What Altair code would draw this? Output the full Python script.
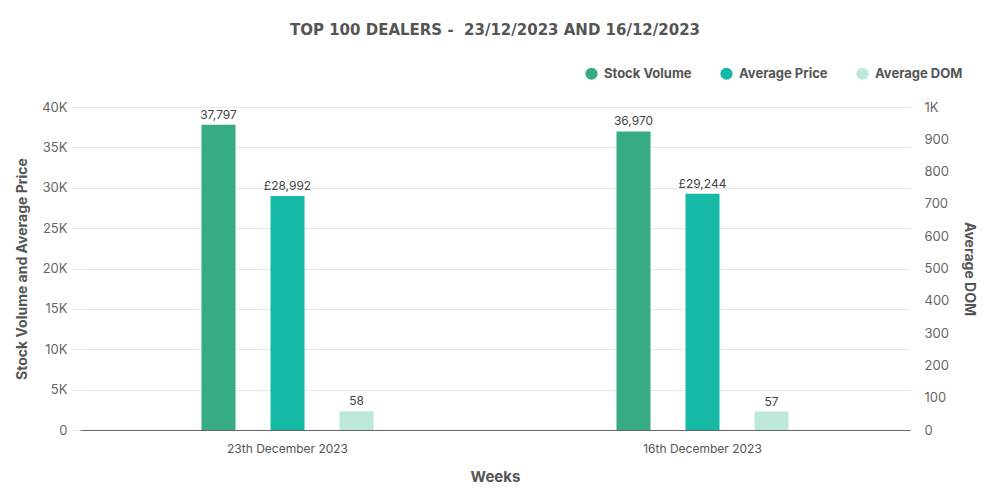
import altair as alt
import pandas as pd

weeks = ["23th December 2023", "16th December 2023"]
series = ["Stock Volume", "Average Price", "Average DOM"]
stock_volume = [37797, 36970]
average_price = [28992, 29244]
average_dom = [58, 57]
colors = ["#36ab84", "#15b9a6", "#bfe8dd"]

rows = []
for i, w in enumerate(weeks):
    rows.append(dict(week=w, series="Stock Volume", value=stock_volume[i], label=f"{stock_volume[i]:,}"))
    rows.append(dict(week=w, series="Average Price", value=average_price[i], label=f"£{average_price[i]:,}"))
    rows.append(dict(week=w, series="Average DOM", value=average_dom[i], label=f"{average_dom[i]}"))
df = pd.DataFrame(rows)

FONT = "Inter"

base = alt.Chart(df).encode(
    x=alt.X(
        "week:N", sort=weeks,
        scale=alt.Scale(paddingInner=0.5012, paddingOuter=0.2506),
        axis=alt.Axis(title="Weeks", labelAngle=0, ticks=False, domainColor="#666",
                      labelColor="#555", labelFontSize=12, labelPadding=13,
                      titleFontSize=15, titleFontWeight="bold", titleColor="#555",
                      titlePadding=15),
    ),
    xOffset=alt.XOffset("series:N", sort=series,
                        scale=alt.Scale(domain=series, paddingInner=0.507, paddingOuter=0.2535)),
)

color_enc = alt.Color(
    "series:N",
    scale=alt.Scale(domain=series, range=colors),
    legend=alt.Legend(orient="none", legendX=505, legendY=-40, direction="horizontal",
                      title=None, symbolType="circle", symbolSize=150,
                      labelFontSize=13, labelFontWeight="bold", labelColor="#555",
                      labelOffset=6, columnPadding=28, symbolStrokeWidth=0),
)

left_axis = alt.Axis(title="Stock Volume and Average Price", orient="left",
                     values=list(range(0, 40001, 5000)),
                     labelExpr="datum.value == 0 ? '0' : (datum.value / 1000) + 'K'",
                     grid=True, gridColor="#e6e6e6", tickColor="#e6e6e6", tickSize=8,
                     domain=False, labelFontSize=13, labelColor="#666", labelPadding=5,
                     labelOverlap=False,
                     titleFontSize=14, titleFontWeight="bold", titleColor="#555",
                     titlePadding=12)

right_axis = alt.Axis(title="Average DOM", orient="right",
                      values=list(range(0, 1001, 100)),
                      labelExpr="datum.value >= 1000 ? (datum.value / 1000) + 'K' : datum.value",
                      grid=False, ticks=False, domain=False, labelOverlap=False,
                      labelFontSize=13, labelColor="#666", labelPadding=14,
                      titleFontSize=14, titleFontWeight="bold", titleColor="#555",
                      titlePadding=13)

left_y = alt.Y("value:Q", scale=alt.Scale(domain=[0, 40000]), axis=left_axis)
right_y = alt.Y("value:Q", scale=alt.Scale(domain=[0, 1000]), axis=right_axis)

left = base.transform_filter(alt.datum.series != "Average DOM")
right = base.transform_filter(alt.datum.series == "Average DOM")

left_bars = left.mark_bar().encode(y=left_y, color=color_enc)
left_text = left.mark_text(dy=-10, fontSize=12, font=FONT).encode(
    y=left_y, text="label:N", color=alt.value("#444"))
right_bars = right.mark_bar().encode(y=right_y, color=color_enc)
right_text = right.mark_text(dy=-10, fontSize=12, font=FONT).encode(
    y=right_y, text="label:N", color=alt.value("#444"))

chart = alt.layer(
    alt.layer(left_bars, left_text),
    alt.layer(right_bars, right_text),
).resolve_scale(y="independent").properties(
    width=830, height=323,
    title=alt.TitleParams("TOP 100 DEALERS -\u00a0 23/12/2023 AND 16/12/2023",
                          fontSize=15, fontWeight="bold", color="#555",
                          anchor="middle", font="DejaVu Sans", offset=29),
    autosize=alt.AutoSizeParams(type="none"),
    padding={"left": 72, "top": 99, "right": 80, "bottom": 70},
).configure(font=FONT).configure_view(stroke=None)

chart.save("out.html", embed_options={"renderer": "svg", "actions": False})
